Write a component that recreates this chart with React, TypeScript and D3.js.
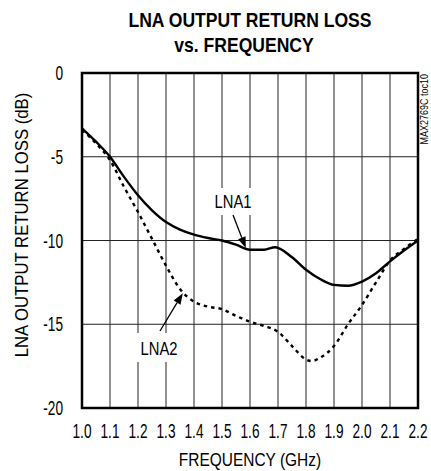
import React from "react";
import * as d3 from "d3";

const freqTicks = [1.0, 1.1, 1.2, 1.3, 1.4, 1.5, 1.6, 1.7, 1.8, 1.9, 2.0, 2.1, 2.2];
const lossTicks = [0, -5, -10, -15, -20];

const lna1Freq = [1.0, 1.05, 1.1, 1.15, 1.2, 1.25, 1.3, 1.35, 1.4, 1.45, 1.5, 1.55, 1.6, 1.65, 1.69, 1.75, 1.8, 1.85, 1.9, 1.95, 2.0, 2.05, 2.1, 2.15, 2.2];
const lna1Loss = [-3.3, -4.1, -5.0, -6.2, -7.3, -8.2, -8.9, -9.35, -9.65, -9.85, -10.0, -10.25, -10.55, -10.55, -10.4, -11.0, -11.75, -12.3, -12.65, -12.7, -12.45, -11.95, -11.25, -10.6, -10.0];

const lna2Freq = [1.0, 1.05, 1.1, 1.15, 1.2, 1.25, 1.3, 1.35, 1.4, 1.45, 1.5, 1.55, 1.6, 1.65, 1.7, 1.75, 1.8, 1.82, 1.85, 1.9, 1.95, 2.0, 2.05, 2.1, 2.15, 2.2];
const lna2Loss = [-3.4, -4.2, -5.2, -6.8, -8.3, -9.9, -11.5, -12.9, -13.65, -13.95, -14.1, -14.5, -14.85, -15.1, -15.45, -16.3, -17.1, -17.2, -17.0, -16.3, -15.0, -13.85, -12.5, -11.2, -10.5, -9.9];

const W = 431;
const H = 471;
const left = 82, right = 418, top = 73, bottom = 408;

const FONT = "'Liberation Sans', Arial, sans-serif";

type NTProps = {
  x: number;
  y: number;
  sx: number;
  size: number;
  anchor?: "start" | "middle" | "end";
  bold?: boolean;
  rotate?: number;
  children: React.ReactNode;
};

function NText({ x, y, sx, size, anchor = "middle", bold = false, rotate = 0, children }: NTProps) {
  return (
    <text
      transform={`translate(${x},${y}) rotate(${rotate}) scale(${sx},1)`}
      textAnchor={anchor}
      fontFamily={FONT}
      fontWeight={bold ? "bold" : "normal"}
      fontSize={size}
      fill="#000"
    >
      {children}
    </text>
  );
}

export default function App() {
  const x = d3.scaleLinear().domain([1.0, 2.2]).range([left, right]);
  const y = d3.scaleLinear().domain([0, -20]).range([top, bottom]);

  const mk = d3
    .line<[number, number]>()
    .x((d) => x(d[0]))
    .y((d) => y(d[1]))
    .curve(d3.curveMonotoneX);
  const p1 = mk(lna1Freq.map((f, i) => [f, lna1Loss[i]] as [number, number]));
  const p2 = mk(lna2Freq.map((f, i) => [f, lna2Loss[i]] as [number, number]));

  const arrow = (x1: number, y1: number, x2: number, y2: number) => {
    const ang = Math.atan2(y2 - y1, x2 - x1);
    const len = 11, hw = 4;
    const bx = x2 - len * Math.cos(ang), by = y2 - len * Math.sin(ang);
    const px = -Math.sin(ang) * hw, py = Math.cos(ang) * hw;
    return (
      <g>
        <line x1={x1} y1={y1} x2={bx} y2={by} stroke="#000" strokeWidth={1.3} />
        <path d={`M${x2},${y2}L${bx + px},${by + py}L${bx - px},${by - py}Z`} fill="#000" />
      </g>
    );
  };

  return (
    <svg width={W} height={H} style={{ position: "absolute", left: 0, top: 0, background: "#fff" }}>
      <rect x={0} y={0} width={W} height={H} fill="#fff" />
      <NText x={250} y={27} sx={0.9} size={19.5} bold>
        LNA OUTPUT RETURN LOSS
      </NText>
      <NText x={244} y={52} sx={0.9} size={19.5} bold>
        vs. FREQUENCY
      </NText>

      {/* grid */}
      {freqTicks.slice(1, -1).map((f) => (
        <line key={"vx" + f} x1={x(f)} x2={x(f)} y1={top} y2={bottom} stroke="#222" strokeWidth={1} />
      ))}
      {lossTicks.slice(1, -1).map((v) => (
        <line key={"hy" + v} x1={left} x2={right} y1={y(v)} y2={y(v)} stroke="#222" strokeWidth={1} />
      ))}

      {/* label backgrounds */}
      <rect x={213} y={188} width={41} height={27} fill="#fff" />
      <rect x={136} y={333} width={46} height={29} fill="#fff" />

      {/* curves */}
      <path d={p1 || ""} fill="none" stroke="#000" strokeWidth={2.4} />
      <path d={p2 || ""} fill="none" stroke="#000" strokeWidth={2.4} strokeDasharray="3.5,4" />

      {/* frame */}
      <rect x={left} y={top} width={right - left} height={bottom - top} fill="none" stroke="#000" strokeWidth={2.5} />

      {/* annotations */}
      <NText x={233} y={208} sx={0.82} size={18}>LNA1</NText>
      {arrow(233, 215, x(1.585), y(-10.45))}
      <NText x={159} y={355} sx={0.82} size={18}>LNA2</NText>
      {arrow(160, 331, x(1.36), y(-13.15))}

      {/* tick labels */}
      {freqTicks.map((f) => (
        <NText key={"xt" + f} x={x(f)} y={438} sx={0.7} size={19.5}>
          {f.toFixed(1)}
        </NText>
      ))}
      {lossTicks.map((v) => (
        <NText key={"yt" + v} x={63} y={y(v) + 7} sx={0.7} size={19.5} anchor="end">
          {v}
        </NText>
      ))}

      <NText x={250} y={466} sx={0.86} size={18}>
        FREQUENCY (GHz)
      </NText>
      <NText x={28} y={225} sx={0.93} size={18} rotate={-90}>
        LNA OUTPUT RETURN LOSS (dB)
      </NText>
      <NText x={428} y={74} sx={0.9} size={10} rotate={-90} anchor="end">
        MAX2769C toc10
      </NText>
    </svg>
  );
}
